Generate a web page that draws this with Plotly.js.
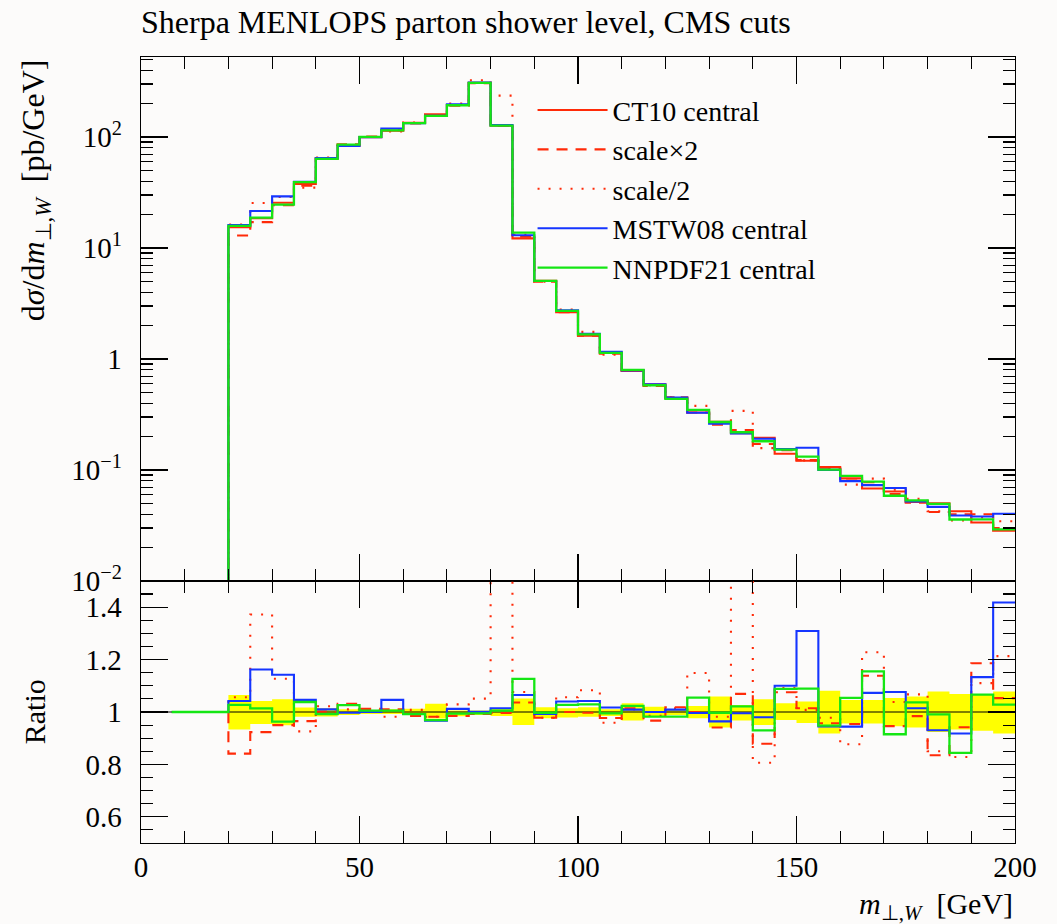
<!DOCTYPE html>
<html>
<head>
<meta charset="utf-8">
<script src="https://cdn.plot.ly/plotly-3.0.1.min.js"></script>
<style>
html,body{margin:0;padding:0;background:#fcfbfa;}
#chart{width:1057px;height:924px;}
</style>
</head>
<body>
<div id="chart"></div>
<script>
// ---------------- data ----------------
// start of the empty region before the first filled bin
const emptyStart = 7;
// bin edges of the m_T(W) histogram [GeV]
const binEdges = [20,25,30,35,40,45,50,55,60,65,70,75,80,85,90,95,100,105,110,115,120,
                  125,130,135,140,145,150,155,160,165,170,175,180,185,190,195,200];
// CT10 central  dσ/dm [pb/GeV]
const ct10Central = [15.4,18.5,25.5,37.7,63.9,83.2,99.5,114,134,160,194,308,126,12.2,5.07,2.64,
                     1.62,1.14,0.78,0.59,0.444,0.329,0.271,0.214,0.195,0.140,0.121,0.106,0.084,
                     0.068,0.064,0.0514,0.050,0.0424,0.0336,0.0284];
// ratios to CT10 central
const ratioScaleX2 = [0.841,0.923,0.950,0.965,1.002,1.031,1.012,1.010,0.985,0.982,0.985,0.992,
                      0.996,1.036,0.978,1.000,0.997,0.977,1.014,0.967,1.018,1.000,0.941,1.069,
                      0.879,1.075,1.014,0.957,0.954,1.138,0.946,0.984,0.835,0.942,1.186,1.053];
const ratioScaleHalf = [1.056,1.372,1.127,0.926,1.022,1.010,1.005,0.982,1.008,0.982,1.029,1.051,
                        1.87,1.076,0.978,1.056,1.083,0.959,1.010,0.985,1.014,1.149,0.982,1.59,
                        0.806,1.091,1.008,0.978,0.877,1.228,1.038,1.067,0.850,0.828,1.110,1.213];
const ratioMSTW08 = [1.042,1.162,1.142,1.046,1.010,0.997,1.000,1.046,0.992,0.967,1.012,1.001,
                     1.014,1.065,0.992,1.040,1.042,1.017,1.009,1.000,1.009,0.996,0.964,0.995,
                     0.980,1.100,1.309,0.945,0.944,1.073,1.076,1.014,0.930,0.918,1.133,1.418];
const ratioNNPDF21 = [1.027,1.014,0.963,1.038,0.992,1.026,1.005,1.005,0.992,0.969,0.994,0.995,
                      1.005,1.126,0.997,1.027,1.029,0.995,1.023,0.982,0.982,1.055,0.997,1.021,
                      0.930,1.088,1.089,0.948,1.054,1.155,0.915,1.037,0.991,0.844,1.066,1.028];
// uncertainty band (yellow) in the ratio panel
const bandUpper = [1.065,1.042,1.049,1.017,1.014,1.010,1.008,1.010,1.012,1.031,1.006,1.006,
                   1.014,1.051,1.018,1.014,1.018,1.010,1.033,1.020,1.010,1.023,1.059,1.027,
                   1.049,1.033,1.040,1.081,1.046,1.046,1.053,1.059,1.078,1.069,1.069,1.078];
const bandLower = [0.933,0.954,0.949,0.982,0.983,0.988,0.992,0.992,0.988,0.975,0.984,0.988,
                   0.985,0.950,0.976,0.979,0.982,0.985,0.967,0.982,0.988,0.976,0.941,0.967,
                   0.950,0.969,0.958,0.918,0.956,0.956,0.946,0.941,0.924,0.933,0.928,0.918];
const seriesNames = ['CT10 central','scale×2','scale/2','MSTW08 central','NNPDF21 central'];
const yTickVals = [0.01,0.1,1,10,100];
const yTickText = ['10<sup>−2</sup>','10<sup>−1</sup>','1','10<sup>1</sup>','10<sup>2</sup>'];
const rTickVals = [0.6,0.8,1,1.2,1.4];
const rTickText = ['0.6','0.8','1','1.2','1.4'];

// ---------------- build ----------------
const RED = '#ff2a08', BLUE = '#1535ff', GREEN = '#14e614';
const FONT = 'Liberation Serif, Times New Roman, serif';
const xRange = [0, 200];
const EMPTY = 1e-6; // empty bins (zero content) drawn below the log axis

const xsFull = [emptyStart].concat(binEdges);
function stepVals(vals, pre){ return [pre].concat(vals, [vals[vals.length-1]]); }
function times(a, r){ return a.map((v,i)=>v*r[i]); }

const topSeries = [
  ct10Central,
  times(ct10Central, ratioScaleX2),
  times(ct10Central, ratioScaleHalf),
  times(ct10Central, ratioMSTW08),
  times(ct10Central, ratioNNPDF21)
];
const ratioSeries = [null, ratioScaleX2, ratioScaleHalf, ratioMSTW08, ratioNNPDF21];
const styles = [
  {color:RED, width:2.1, dash:'solid'},
  {color:RED, width:2.1, dash:'11px,8px'},
  {color:RED, width:2.1, dash:'2px,9px'},
  {color:BLUE, width:2.1, dash:'solid'},
  {color:GREEN, width:2.3, dash:'solid'}
];

const traces = [];
// top panel
topSeries.forEach((s,k)=>{
  traces.push({x:xsFull, y:stepVals(s, EMPTY), xaxis:'x', yaxis:'y', mode:'lines',
    line:Object.assign({shape:'hv'}, styles[k]), name:seriesNames[k], showlegend:true,
    hoverinfo:'skip'});
});
// ratio panel: band
traces.push({x:binEdges, y:bandLower.concat([bandLower[bandLower.length-1]]), xaxis:'x2', yaxis:'y2',
  mode:'lines', line:{shape:'hv', width:0, color:'rgba(0,0,0,0)'}, showlegend:false, hoverinfo:'skip'});
traces.push({x:binEdges, y:bandUpper.concat([bandUpper[bandUpper.length-1]]), xaxis:'x2', yaxis:'y2',
  mode:'lines', line:{shape:'hv', width:0, color:'rgba(0,0,0,0)'}, fill:'tonexty', fillcolor:'#ffff00',
  showlegend:false, hoverinfo:'skip'});
// reference line at ratio 1
traces.push({x:xRange, y:[1,1], xaxis:'x2', yaxis:'y2', mode:'lines', line:{color:'#000', width:1.2},
  showlegend:false, hoverinfo:'skip'});
ratioSeries.forEach((r,k)=>{
  if(!r) return;
  traces.push({x:xsFull, y:stepVals(r, 1), xaxis:'x2', yaxis:'y2', mode:'lines',
    line:Object.assign({shape:'hv'}, styles[k]), showlegend:false, hoverinfo:'skip'});
});

// minor log ticks
const logMinor = [];
for(let e=-2; e<=2; e++){ for(let m=2; m<=9; m++){ const v=m*Math.pow(10,e); if(v<=530) logMinor.push(v);} }

const axBase = {
  showline:true, linecolor:'#000', linewidth:1.4, mirror:'allticks', showgrid:false, zeroline:false,
  ticks:'inside', ticklen:27, tickwidth:1.2, tickcolor:'#000',
  tickfont:{family:FONT, size:29, color:'#000'}
};
const minorBase = {ticks:'inside', ticklen:12, tickwidth:1.1, tickcolor:'#000', showgrid:false};

const layout = {
  width:1057, height:924,
  paper_bgcolor:'#fcfbfa', plot_bgcolor:'#fcfbfa',
  margin:{l:141, r:42, t:57, b:81},
  font:{family:FONT, color:'#000'},
  title:{text:'Sherpa MENLOPS parton shower level, CMS cuts', font:{family:FONT, size:32, color:'#000'},
         xref:'paper', x:0, xanchor:'left', yref:'container', y:1-22/924, yanchor:'middle'},
  showlegend:true,
  legend:{x:0.448, xanchor:'left', y:0.964, yanchor:'top', bgcolor:'rgba(0,0,0,0)', traceorder:'normal',
          font:{family:FONT, size:28, color:'#000'}, itemwidth:70, tracegroupgap:0},
  xaxis:Object.assign({}, axBase, {domain:[0,1], range:xRange, anchor:'y', showticklabels:false,
          tickmode:'linear', tick0:0, dtick:50,
          minor:Object.assign({}, minorBase, {tickmode:'linear', tick0:0, dtick:10})}),
  yaxis:Object.assign({}, axBase, {domain:[0.3334,1], type:'log', range:[-2,2.72], anchor:'x',
          tickmode:'array', tickvals:yTickVals, ticktext:yTickText, ticklabelstandoff:12,
          minor:Object.assign({}, minorBase, {tickmode:'array', tickvals:logMinor})}),
  xaxis2:Object.assign({}, axBase, {domain:[0,1], range:xRange, anchor:'y2', showticklabels:true,
          tickmode:'linear', tick0:0, dtick:50, ticklabelstandoff:-2,
          minor:Object.assign({}, minorBase, {tickmode:'linear', tick0:0, dtick:10})}),
  yaxis2:Object.assign({}, axBase, {domain:[0,0.3334], range:[0.5,1.5], anchor:'x2',
          tickmode:'array', tickvals:rTickVals, ticktext:rTickText, ticklabelstandoff:12,
          minor:Object.assign({}, minorBase, {tickmode:'linear', tick0:0, dtick:0.05})}),
  annotations:[
    {text:'d<i>σ</i>/d<i>m</i><sub>⊥,<i>W</i></sub>  [pb/GeV]', textangle:-90, showarrow:false,
     xref:'paper', x:-0.121, xanchor:'center', yref:'paper', y:1.0, yanchor:'top',
     font:{family:FONT, size:32, color:'#000'}},
    {text:'Ratio', textangle:-90, showarrow:false,
     xref:'paper', x:-0.121, xanchor:'center', yref:'paper', y:0.1667, yanchor:'middle',
     font:{family:FONT, size:30, color:'#000'}},
    {text:'<i>m</i><sub>⊥,<i>W</i></sub>  [GeV]', showarrow:false,
     xref:'paper', x:1, xanchor:'right', yref:'paper', y:-(906-843)/786, yanchor:'middle',
     font:{family:FONT, size:30, color:'#000'}}
  ]
};

Plotly.newPlot('chart', traces, layout, {staticPlot:true, displayModeBar:false});
</script>
</body>
</html>
